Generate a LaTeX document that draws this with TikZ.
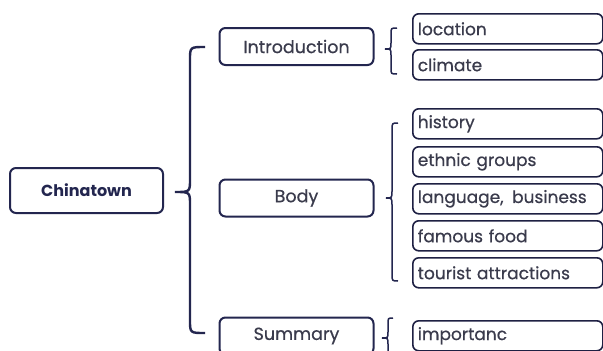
\documentclass[tikz,border=0pt]{standalone}
\usepackage{fontspec}
\setmainfont{Poppins}
\newfontface\medfont{Poppins}[FakeBold=0.6]
\definecolor{navy}{HTML}{23264F}
\definecolor{txt}{HTML}{3A3B4C}
\tikzset{
  mainbox/.style={draw=navy, line width=2pt, rounded corners=6pt, minimum width=153pt, minimum height=45pt, inner sep=0pt, font=\fontsize{16}{19}\selectfont\bfseries, text=navy},
  secbox/.style={draw=navy, line width=2pt, rounded corners=6pt, minimum width=154pt, minimum height=37pt, inner sep=0pt, font=\fontsize{17.5}{20}\medfont, text=txt},
  leafbox/.style={draw=navy!85!black, line width=1.6pt, rounded corners=6pt, minimum height=30pt, text width=180pt, inner xsep=5pt, inner ysep=0pt, align=left, anchor=north west, font=\fontsize{17}{20}\medfont, text=txt},
  bigbrace/.style={draw=navy, line width=2.4pt},
  smallbrace/.style={draw=navy, line width=1.5pt}
}
% tip x, spine x, cusp x, top y, cusp y, bottom y, radius, style
\newcommand\mybrace[8]{%
  \draw[#8] (#1,#4) .. controls (#2,#4) .. (#2,#4+#7) -- (#2,#5-#7)
    .. controls (#2,#5) .. (#3,#5) .. controls (#2,#5) .. (#2,#5+#7)
    -- (#2,#6-#7) .. controls (#2,#6) .. (#1,#6);}
\begin{document}
\begin{tikzpicture}[x=1pt,y=-1pt]
\useasboundingbox (0,0) rectangle (603,351);
\clip (0,0) rectangle (603,351);
\fill[white] (0,0) rectangle (603,351);

\node[mainbox] (china) at (86.5,190.5) {Chinatown};
\node[secbox] (intro) at (296.5,46.5) {Introduction};
\node[secbox] (body) at (296.5,198) {Body};
\node[secbox] (summ) at (296.5,336) {Summary};

\node[leafbox] (loc) at (412,13) {location};
\node[leafbox] (cli) at (412,49) {climate};

\node[leafbox] (his) at (412,108) {history};
\node[leafbox] (eth) at (412,146) {ethnic groups};
\node[leafbox] (lan) at (412,183) {language,\hspace{0.5em}business};
\node[leafbox] (foo) at (412,220) {famous food};
\node[leafbox] (tou) at (412,257) {tourist attractions};

\node[leafbox] (imp) at (412,320) {importanc};

\mybrace{205}{190}{175}{47}{192}{333}{13}{bigbrace}
\mybrace{397}{391}{385}{28}{49}{74}{6}{smallbrace}
\mybrace{398}{392}{386}{123}{198}{281}{7}{smallbrace}
\mybrace{393}{388}{382}{318}{338}{358}{6}{smallbrace}
\end{tikzpicture}
\end{document}
